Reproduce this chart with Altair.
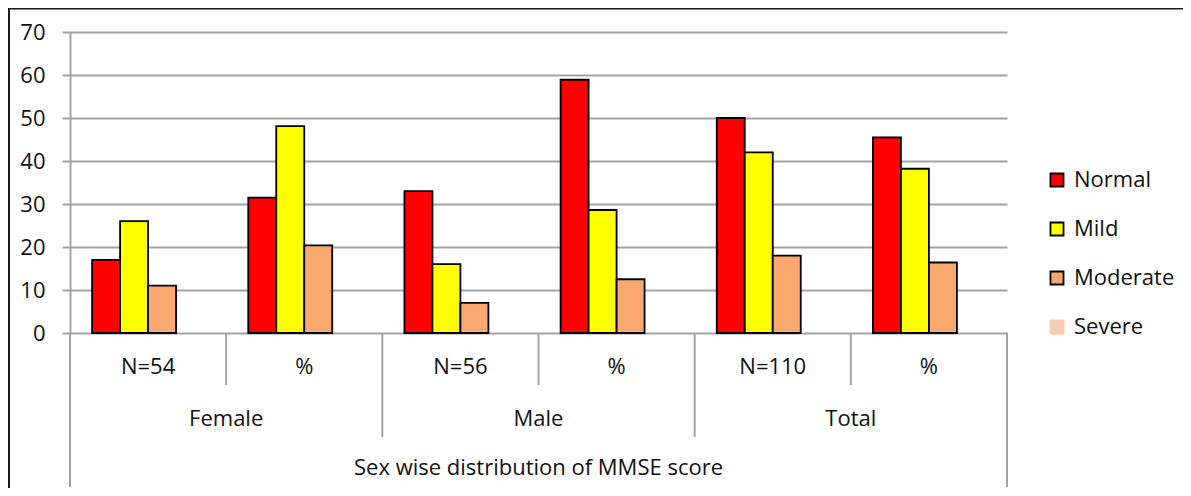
import altair as alt
import pandas as pd

# ---- data ----
groups = ["Female", "Female", "Male", "Male", "Total", "Total"]
sublabels = ["N=54", "%", "N=56", "%", "N=110", "%"]
levels = ["Normal", "Mild", "Moderate", "Severe"]
normal = [17, 31.5, 33, 58.9, 50, 45.5]
mild = [26, 48.1, 16, 28.6, 42, 38.2]
moderate = [11, 20.4, 7, 12.5, 18, 16.4]
severe = [0, 0, 0, 0, 0, 0]
group_names = ["Female", "Male", "Total"]
axis_title = "Sex wise distribution of MMSE score"
y_ticks = [0, 10, 20, 30, 40, 50, 60, 70]

colors = ["#FF0000", "#FFFF00", "#F9A870", "#F9CBB2"]
strokes = ["#000000", "#000000", "#000000", "#F9CBB2"]
FONT = "Open Sans"
FS = 22
TXT = "#111111"
GRID = "#A3A3A3"

cats = [f"{g} {s}" for g, s in zip(groups, sublabels)]

rows = []
for i, c in enumerate(cats):
    for lv, vals in zip(levels, [normal, mild, moderate, severe]):
        rows.append({"cat": c, "level": lv, "value": vals[i]})
bars_df = pd.DataFrame(rows)

xscale = alt.Scale(domain=cats, paddingInner=0, paddingOuter=0)
yscale = alt.Scale(domain=[0, 70], nice=False, zero=True)
yaxis = alt.Axis(values=y_ticks, grid=True, gridColor=GRID, gridWidth=2,
                 domain=True, domainColor=GRID, domainWidth=2,
                 ticks=True, tickSize=8, tickColor=GRID, tickWidth=2,
                 labelFont=FONT, labelFontSize=FS, labelColor=TXT,
                 labelPadding=17, title=None)

legend = alt.Legend(title=None, orient="none", legendX=976, legendY=137,
                    direction="vertical", symbolType="square",
                    symbolSize=170, symbolStrokeWidth=1.8,
                    labelFont=FONT, labelFontSize=FS, labelColor=TXT,
                    rowPadding=27, labelOffset=6, padding=0)

bars = alt.Chart(bars_df).transform_filter(alt.datum.value > 0).mark_bar(
    strokeWidth=1.8
).encode(
    x=alt.X("cat:N", scale=xscale, axis=None),
    xOffset=alt.XOffset("level:N", scale=alt.Scale(domain=levels, paddingInner=0, paddingOuter=0.79)),
    y=alt.Y("value:Q", scale=yscale, axis=yaxis),
    fill=alt.Fill("level:N", scale=alt.Scale(domain=levels, range=colors), legend=legend),
    stroke=alt.Stroke("level:N", scale=alt.Scale(domain=levels, range=strokes), legend=legend),
)

# hierarchical category axis below the plot (in data units of the y scale)
SUB_Y, GROUP_Y, TITLE_Y = -7.9, -20.0, -31.4
D_SUB, D_GROUP, D_OUTER = -12.1, -24.2, -35.8

sep_depth = [D_OUTER, D_SUB, D_GROUP, D_SUB, D_GROUP, D_SUB]
sep_df = pd.DataFrame({"cat": cats, "y0": 0, "y1": sep_depth})
end_df = pd.DataFrame({"cat": [cats[-1]], "y0": [0], "y1": [D_OUTER]})

seps = alt.Chart(sep_df).mark_rule(color=GRID, strokeWidth=2).encode(
    x=alt.X("cat:N", scale=xscale, axis=None, bandPosition=0),
    y=alt.Y("y0:Q", scale=yscale, axis=yaxis),
    y2="y1:Q",
)
end_sep = alt.Chart(end_df).mark_rule(color=GRID, strokeWidth=2).encode(
    x=alt.X("cat:N", scale=xscale, axis=None, bandPosition=1),
    y=alt.Y("y0:Q", scale=yscale, axis=yaxis),
    y2="y1:Q",
)

def text_layer(df, band):
    return alt.Chart(df).mark_text(font=FONT, fontSize=FS, color=TXT, baseline="middle").encode(
        x=alt.X("cat:N", scale=xscale, axis=None, bandPosition=band),
        y=alt.Y("y:Q", scale=yscale, axis=yaxis),
        text="label:N",
    )

sub_text = text_layer(pd.DataFrame({"cat": cats, "label": sublabels, "y": SUB_Y}), 0.5)
grp_text = text_layer(pd.DataFrame({"cat": [cats[1], cats[3], cats[5]], "label": group_names,
                                    "y": GROUP_Y}), 0)
ttl_text = text_layer(pd.DataFrame({"cat": [cats[3]], "label": [axis_title], "y": [TITLE_Y]}), 0)

# outer frame (top and left edges)
one = alt.Data(values=[{"k": 1}])
frame_top = alt.Chart(one).mark_rule(color="#1a1a1a", strokeWidth=3).encode(
    x=alt.value(-61.5), x2=alt.value(1120), y=alt.value(-24))
frame_left = alt.Chart(one).mark_rule(color="#1a1a1a", strokeWidth=3).encode(
    x=alt.value(-61.5), y=alt.value(-24), y2=alt.value(470))

chart = alt.layer(seps, end_sep, bars, sub_text, grp_text, ttl_text, frame_top, frame_left).properties(
    width=937, height=301,
    autosize=alt.AutoSizeParams(type="none"),
    padding={"left": 62, "top": 24, "right": 176, "bottom": 155},
    background="white",
).configure_view(stroke=None)

chart.save("out.html", embed_options={"renderer": "svg", "actions": False})
